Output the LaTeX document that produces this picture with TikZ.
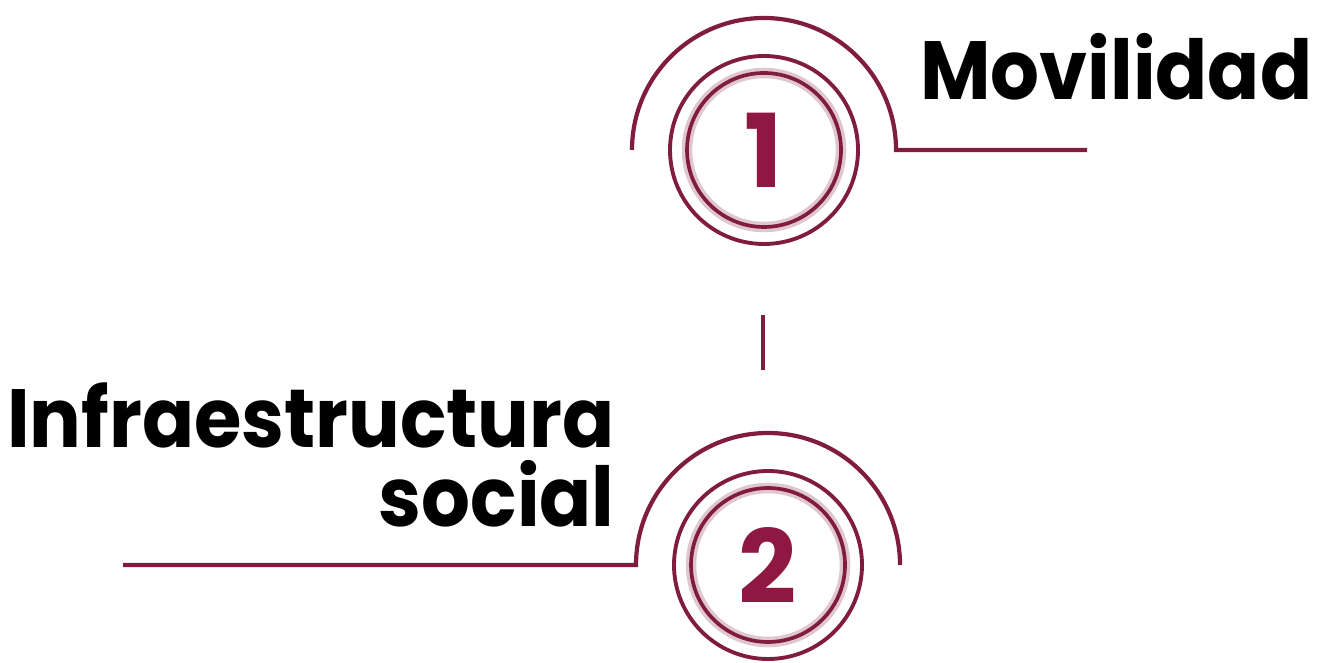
\documentclass[tikz,border=0pt]{standalone}
\usepackage{fontspec}
\setmainfont{Poppins}
\newfontfamily\labelfont[FakeStretch=0.93]{Poppins}
\usetikzlibrary{positioning,calc}
\definecolor{wine}{RGB}{128,28,62}
\definecolor{winenum}{RGB}{142,24,66}

\begin{document}
\begin{tikzpicture}[
    x=0.02cm, y=0.02cm,
    numcircle/.style={circle, draw=wine, line width=2.1pt, minimum size=3.08cm, inner sep=0pt, text=winenum, font=\fontsize{58pt}{58pt}\selectfont\bfseries},
    glow/.style={draw=wine!25, line width=6pt},
    ring/.style={draw=wine, line width=2.2pt},
    link/.style={draw=wine, line width=2.4pt},
    label/.style={font=\labelfont\fontsize{47pt}{45.5pt}\selectfont\bfseries, inner sep=0pt}
]
\useasboundingbox (0,0) rectangle (1317,662);

% Circles
\draw[glow] (764,512) circle (77);
\node[numcircle] (c1) at (764,512) {1};
\draw[glow] (768,97) circle (77);
\node[numcircle] (c2) at (768,97) {2};

% Outer rings
\draw[ring] (c1.center) circle (94);
\draw[ring] (c2.center) circle (94);

% Line ends
\coordinate (e1) at (1087,512);
\coordinate (e2) at (123,97);
\coordinate (v1) at (763,347);
\coordinate (v2) at (763,292);

% Arcs
\draw[link] (e1) -- ($(c1.center)+(132,0)$) arc (0:180:132);
\draw[link] (e2) -- ($(c2.center)+(-132,0)$) arc (180:0:132);
\draw[link] (v1) -- (v2);

% Labels
\node[label, anchor=base west] (mov) at (920,562) {Movilidad};
\node[label, anchor=base east, align=right] (inf) at (615,135) {Infraestructura\\social};

\end{tikzpicture}
\end{document}
